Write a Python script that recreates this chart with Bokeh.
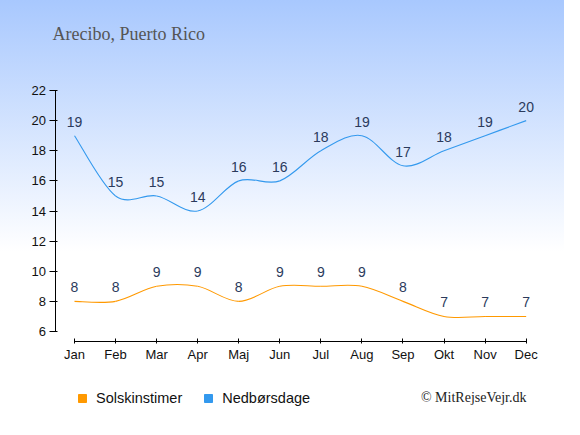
import numpy as np
from bokeh.plotting import figure
from bokeh.models import Label, Legend, LegendItem, Range1d, FixedTicker, ColumnDataSource
from bokeh.embed import file_html
from bokeh.resources import INLINE

months = ["Jan", "Feb", "Mar", "Apr", "Maj", "Jun", "Jul", "Aug", "Sep", "Okt", "Nov", "Dec"]
sun_hours = [8, 8, 9, 9, 8, 9, 9, 9, 8, 7, 7, 7]
rain_days = [19, 15, 15, 14, 16, 16, 18, 19, 17, 18, 19, 20]
y_ticks = [6, 8, 10, 12, 14, 16, 18, 20, 22]

SUN_COLOR = "#ff9900"
RAIN_COLOR = "#3399ee"
LABEL_COLOR = "#2b3a5c"

W, H = 564, 419
PX_X = 41.06      # pixels per month
PX_Y = 15.0625    # pixels per unit
X0_PX = 74        # pixel position of Jan
Y6_PX = 331       # pixel position of value 6

p = figure(width=W, height=H, output_backend="svg", toolbar_location=None,
           x_range=Range1d(-X0_PX / PX_X, (W - X0_PX) / PX_X),
           y_range=Range1d(6 - (H - Y6_PX) / PX_Y, 6 + Y6_PX / PX_Y),
           min_border_left=0, min_border_right=0, min_border_top=0, min_border_bottom=0)
p.title.visible = False
p.styles = {"background-image": "linear-gradient(to bottom, #a8c8fe 0%, #ffffff 60%)"}
p.border_fill_color = None
p.background_fill_color = None
p.outline_line_color = None
p.xgrid.visible = False
p.ygrid.visible = False

# axes
xa = p.xaxis[0]
xa.fixed_location = 6 - 10 / PX_Y
xa.ticker = FixedTicker(ticks=list(range(len(months))))
xa.major_label_overrides = {i: m for i, m in enumerate(months)}
xa.bounds = (0, len(months) - 1)
xa.minor_tick_line_color = None
xa.major_tick_in = 3
xa.major_tick_out = 2
xa.major_label_standoff = 3
xa.axis_line_color = "#000000"
xa.major_tick_line_color = "#000000"
xa.major_label_text_font = "Liberation Sans"
xa.major_label_text_font_size = "13px"
xa.major_label_text_color = "#111111"

ya = p.yaxis[0]
ya.fixed_location = (54.5 - X0_PX) / PX_X
ya.ticker = FixedTicker(ticks=y_ticks)
ya.bounds = (y_ticks[0], y_ticks[-1])
ya.minor_tick_line_color = None
ya.major_tick_in = 2
ya.major_tick_out = 6
ya.major_label_standoff = 3
ya.axis_line_color = "#000000"
ya.major_tick_line_color = "#000000"
ya.major_label_text_font = "Liberation Sans"
ya.major_label_text_font_size = "13px"
ya.major_label_text_color = "#111111"


def smooth(vals):
    P = np.array(vals, dtype=float)
    X = np.arange(len(P), dtype=float)
    prevP = np.concatenate([[P[0]], P[:-1]])
    nextP = np.concatenate([P[1:], [P[-1]]])
    prevX = np.concatenate([[X[0]], X[:-1]])
    nextX = np.concatenate([X[1:], [X[-1]]])
    tx = (nextX - prevX) / 6.0
    ty = (nextP - prevP) / 6.0
    return dict(x0=X[:-1], y0=P[:-1], x1=X[1:], y1=P[1:],
                cx0=X[:-1] + tx[:-1], cy0=P[:-1] + ty[:-1],
                cx1=X[1:] - tx[1:], cy1=P[1:] - ty[1:])


for vals, color in [(sun_hours, SUN_COLOR), (rain_days, RAIN_COLOR)]:
    src = ColumnDataSource(smooth(vals))
    p.bezier(x0="x0", y0="y0", x1="x1", y1="y1", cx0="cx0", cy0="cy0", cx1="cx1", cy1="cy1",
             source=src, line_color=color, line_width=1.1)
    lab = ColumnDataSource(dict(x=list(range(len(vals))), y=vals, t=[str(v) for v in vals]))
    p.text(x="x", y="y", text="t", source=lab, text_align="center", text_baseline="bottom",
           y_offset=-9, text_color=LABEL_COLOR, text_font_size="14px",
           text_font={"value": "Liberation Sans"})

# legend proxies (not visible in the plot, only used for the legend swatches)
nan = float("nan")
leg_sun = p.quad(left=[nan], right=[nan], top=[nan], bottom=[nan],
                 fill_color=SUN_COLOR, line_color=SUN_COLOR)
leg_rain = p.quad(left=[nan], right=[nan], top=[nan], bottom=[nan],
                  fill_color=RAIN_COLOR, line_color=RAIN_COLOR)
legend = Legend(items=[LegendItem(label="Solskinstimer", renderers=[leg_sun]),
                       LegendItem(label="Nedbørsdage", renderers=[leg_rain])],
                orientation="horizontal", location=(77, 11),
                glyph_width=10, glyph_height=10, label_height=20, label_standoff=9, spacing=21,
                padding=0, margin=0, border_line_color=None, background_fill_alpha=0,
                label_text_font="Liberation Sans", label_text_font_size="14.5px",
                label_text_color="#111111")
p.add_layout(legend, "center")

p.add_layout(Label(x=(52 - X0_PX) / PX_X, y=6 + (Y6_PX - 33) / PX_Y, text="Arecibo, Puerto Rico",
                   text_baseline="middle", text_font="Liberation Serif", text_font_size="18px",
                   text_color="#555555"))
p.add_layout(Label(x=(526 - X0_PX) / PX_X, y=6 - (397 - Y6_PX) / PX_Y, text="© MitRejseVejr.dk",
                   text_baseline="middle", text_align="right", text_font="Liberation Serif",
                   text_font_size="14px", text_color="#222222"))

open("out.html", "w").write(file_html(p, INLINE))
